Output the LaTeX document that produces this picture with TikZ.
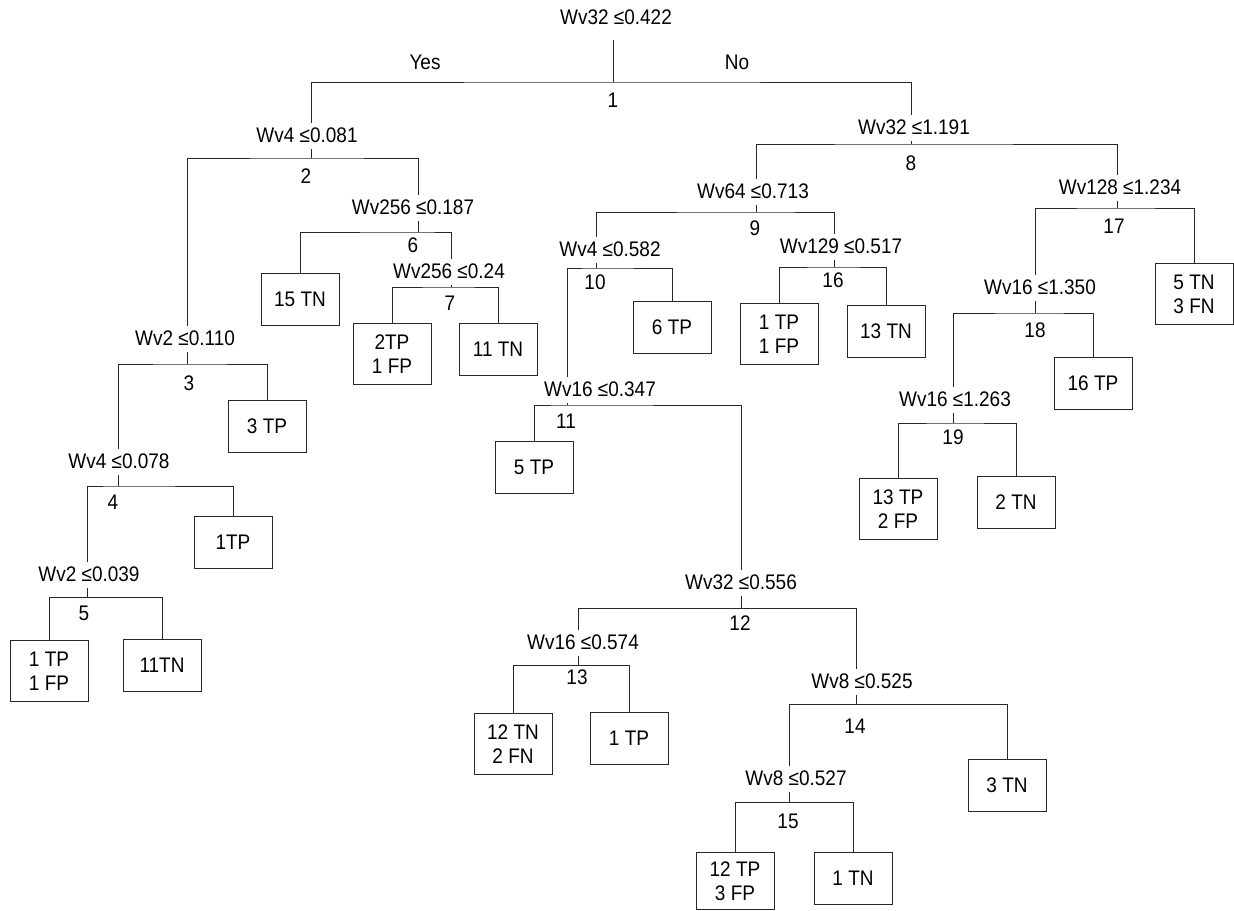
\documentclass[tikz,border=0pt]{standalone}
\usepackage{fontspec}
\setmainfont{Liberation Sans}[FakeStretch=0.9]
\definecolor{treeLine}{RGB}{40,40,40}

\begin{document}
\begin{tikzpicture}[
  x=0.25mm,
  y=-0.25mm,
  font=\fontsize{15}{17}\selectfont,
  split/.style={
    inner sep=2pt,
    text height=12pt,
    text depth=2.5pt,
  },
  num/.style={inner sep=1pt},
  leaf/.style={
    rectangle,
    draw=treeLine,
    line width=0.65pt,
    anchor=north,
    align=center,
    inner sep=1pt,
    minimum width=19.5mm,
    minimum height=13mm,
  },
  leaftwo/.style={leaf, minimum height=15.25mm},
  edge/.style={draw=treeLine, line width=0.65pt},
]
  \useasboundingbox (0,0) rectangle (1234,910);

  % split nodes: label, bar point, number
  \node[split] (n1) at (616,18) {Wv32 ≤0.422};
  \coordinate (t1) at (613,82);
  \node[num] (i1) at (613,100) {1};
  \node (yes) at (425,62) {Yes};
  \node (no) at (737,62) {No};

  \node[split] (n2) at (307,136) {Wv4 ≤0.081};
  \coordinate (t2) at (311,158);
  \node[num] (i2) at (306,176) {2};

  \node[split] (n6) at (413,208) {Wv256 ≤0.187};
  \coordinate (t6) at (418,232);
  \node[num] (i6) at (413,245) {6};

  \node[split] (n7) at (449,272) {Wv256 ≤0.24};
  \coordinate (t7) at (451,287);
  \node[num] (i7) at (450,303) {7};

  \node[split] (n3) at (185,339) {Wv2 ≤0.110};
  \coordinate (t3) at (187,364);
  \node[num] (i3) at (189,383) {3};

  \node[split] (n4) at (119,462) {Wv4 ≤0.078};
  \coordinate (t4) at (118,486);
  \node[num] (i4) at (113,502) {4};

  \node[split] (n5) at (89,575) {Wv2 ≤0.039};
  \coordinate (t5) at (87,597);
  \node[num] (i5) at (84,613) {5};

  \node[split] (n8) at (914,128) {Wv32 ≤1.191};
  \coordinate (t8) at (911,144);
  \node[num] (i8) at (911,163) {8};

  \node[split] (n9) at (753,192) {Wv64 ≤0.713};
  \coordinate (t9) at (756,212);
  \node[num] (i9) at (755,228) {9};

  \node[split] (n10) at (610,250) {Wv4 ≤0.582};
  \coordinate (t10) at (596,268);
  \node[num] (i10) at (595,282) {10};

  \node[split] (n11) at (600,390) {Wv16 ≤0.347};
  \coordinate (t11) at (567,405);
  \node[num] (i11) at (566,421) {11};

  \node[split] (n12) at (741,583) {Wv32 ≤0.556};
  \coordinate (t12) at (741,608);
  \node[num] (i12) at (740,623) {12};

  \node[split] (n13) at (583,643) {Wv16 ≤0.574};
  \coordinate (t13) at (578,665);
  \node[num] (i13) at (577,677) {13};

  \node[split] (n14) at (862,682) {Wv8 ≤0.525};
  \coordinate (t14) at (856,704);
  \node[num] (i14) at (855,726) {14};

  \node[split] (n15) at (796,779) {Wv8 ≤0.527};
  \coordinate (t15) at (789,802);
  \node[num] (i15) at (788,821) {15};

  \node[split] (n16) at (841,247) {Wv129 ≤0.517};
  \coordinate (t16) at (834,267);
  \node[num] (i16) at (833,280) {16};

  \node[split] (n17) at (1120,188) {Wv128 ≤1.234};
  \coordinate (t17) at (1117,208);
  \node[num] (i17) at (1114,226) {17};

  \node[split] (n18) at (1040,288) {Wv16 ≤1.350};
  \coordinate (t18) at (1035,313);
  \node[num] (i18) at (1035,330) {18};

  \node[split] (n19) at (955,400) {Wv16 ≤1.263};
  \coordinate (t19) at (953,423);
  \node[num] (i19) at (953,437) {19};

  % leaves
  \node[leaf] (l15tn) at (300,273) {15 TN};
  \node[leaftwo] (l2tp) at (392,323) {2TP\\1 FP};
  \node[leaf] (l11tn) at (498,323) {11 TN};
  \node[leaf] (l3tp) at (267,400) {3 TP};
  \node[leaf] (l1tp) at (233,516) {1TP};
  \node[leaftwo] (l1tp1fp) at (49,640) {1 TP\\1 FP};
  \node[leaf] (l11tnb) at (162,639) {11TN};
  \node[leaf] (l6tp) at (672,301) {6 TP};
  \node[leaf] (l5tp) at (534,441) {5 TP};
  \node[leaftwo] (l12tn) at (513,713) {12 TN\\2 FN};
  \node[leaf] (l1tpc) at (629,712) {1 TP};
  \node[leaf] (l3tn) at (1007,759) {3 TN};
  \node[leaftwo, minimum height=14.25mm] (l12tp) at (735,852) {12 TP\\3 FP};
  \node[leaf] (l1tn) at (853,852) {1 TN};
  \node[leaftwo] (l1tp1fpb) at (779,303) {1 TP\\1 FP};
  \node[leaf] (l13tn) at (886,305) {13 TN};
  \node[leaftwo] (l5tn) at (1194,263) {5 TN\\3 FN};
  \node[leaf] (l16tp) at (1093,357) {16 TP};
  \node[leaftwo] (l13tp) at (898,478) {13 TP\\2 FP};
  \node[leaf] (l2tn) at (1016,476) {2 TN};

  % branches
  \draw[edge, shorten <=6pt] (n1.south -| t1) -- (t1);
  \draw[edge] (t2 |- n2.north) |- (t1) -| (t8 |- n8.north);

  \draw[edge] (n2.south -| t2) -- (t2);
  \draw[edge] (t3 |- n3.north) |- (t2) -| (t6 |- n6.north);
  \draw[edge] (n6.south -| t6) -- (t6);
  \draw[edge] (l15tn.north) |- (t6) -| (t7 |- n7.north);
  \draw[edge] (n7.south -| t7) -- (t7);
  \draw[edge] (l2tp.north) |- (t7) -| (l11tn.north);
  \draw[edge] (n3.south -| t3) -- (t3);
  \draw[edge] (t4 |- n4.north) |- (t3) -| (l3tp.north);
  \draw[edge] (n4.south -| t4) -- (t4);
  \draw[edge] (t5 |- n5.north) |- (t4) -| (l1tp.north);
  \draw[edge] (n5.south -| t5) -- (t5);
  \draw[edge] (l1tp1fp.north) |- (t5) -| (l11tnb.north);

  \draw[edge] (n8.south -| t8) -- (t8);
  \draw[edge] (t9 |- n9.north) |- (t8) -| (t17 |- n17.north);
  \draw[edge] (n9.south -| t9) -- (t9);
  \draw[edge] (t10 |- n10.north) |- (t9) -| (t16 |- n16.north);
  \draw[edge] (n10.south -| t10) -- (t10);
  \draw[edge] (t11 |- n11.north) |- (t10) -| (l6tp.north);
  \draw[edge] (n11.south -| t11) -- (t11);
  \draw[edge] (l5tp.north) |- (t11) -| (t12 |- n12.north);
  \draw[edge] (n12.south -| t12) -- (t12);
  \draw[edge] (t13 |- n13.north) |- (t12) -| (t14 |- n14.north);
  \draw[edge] (n13.south -| t13) -- (t13);
  \draw[edge] (l12tn.north) |- (t13) -| (l1tpc.north);
  \draw[edge] (n14.south -| t14) -- (t14);
  \draw[edge] (t15 |- n15.north) |- (t14) -| (l3tn.north);
  \draw[edge] (n15.south -| t15) -- (t15);
  \draw[edge] (l12tp.north) |- (t15) -| (l1tn.north);
  \draw[edge] (n16.south -| t16) -- (t16);
  \draw[edge] (l1tp1fpb.north) |- (t16) -| (l13tn.north);

  \draw[edge] (n17.south -| t17) -- (t17);
  \draw[edge] (t18 |- n18.north) |- (t17) -| (l5tn.north);
  \draw[edge] (n18.south -| t18) -- (t18);
  \draw[edge] (t19 |- n19.north) |- (t18) -| (l16tp.north);
  \draw[edge] (n19.south -| t19) -- (t19);
  \draw[edge] (l13tp.north) |- (t19) -| (l2tn.north);

\end{tikzpicture}
\end{document}
